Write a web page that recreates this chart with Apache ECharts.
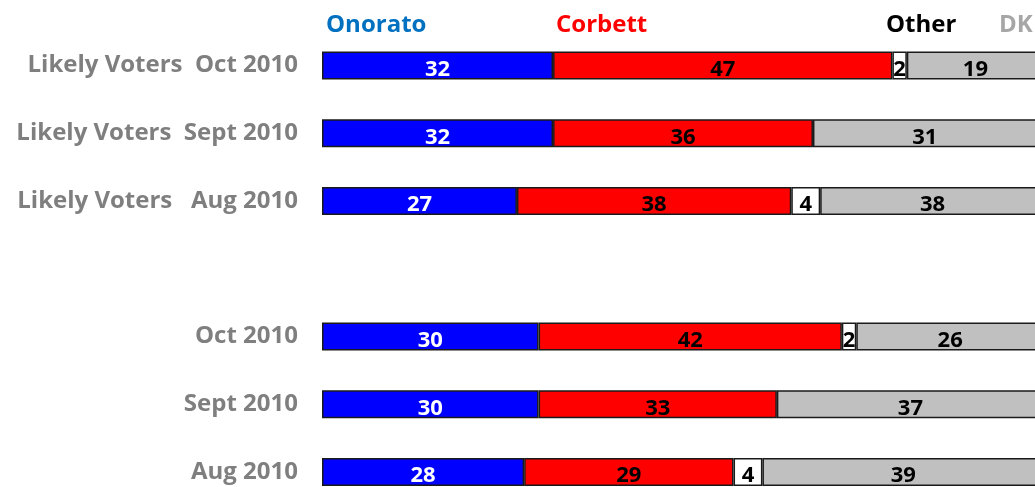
<!DOCTYPE html>
<html>
<head>
<meta charset="utf-8">
<script src="https://cdn.jsdelivr.net/npm/echarts@6/dist/echarts.min.js"></script>
<style>html,body{margin:0;padding:0;background:#fff;}#c{width:1035px;height:487px;}</style>
</head>
<body>
<div id="c"></div>
<script>
var categories = ['Likely Voters  Oct 2010', 'Likely Voters  Sept 2010', 'Likely Voters   Aug 2010', '', 'Oct 2010', 'Sept 2010', 'Aug 2010'];
var onorato = [32, 32, 27, null, 30, 30, 28];
var corbett = [47, 36, 38, null, 42, 33, 29];
var other   = [2, null, 4, null, 2, null, 4];
var dk      = [19, 31, 38, null, 26, 37, 39];
var seriesNames = ['Onorato', 'Corbett', 'Other', 'DK'];

var FONT = '"Open Sans", "Liberation Sans", sans-serif';
var chart = echarts.init(document.getElementById('c'), null, {renderer: 'canvas'});

function mkSeries(name, data, color, labelColor) {
  return {
    name: name,
    type: 'bar',
    stack: 'total',
    data: data,
    barWidth: 28,
    clip: true,
    itemStyle: {color: color, borderColor: '#1a1a1a', borderWidth: 1.5},
    label: {
      show: true,
      position: 'inside',
      color: labelColor,
      fontFamily: FONT,
      fontWeight: 'bold',
      fontSize: 22,
      offset: [0, 4]
    },
    emphasis: {disabled: true},
    animation: false
  };
}

function mkLegend(name, color, left) {
  return {
    data: [{name: name, icon: 'none'}],
    left: left,
    top: 8,
    itemWidth: 0,
    itemHeight: 0,
    selectedMode: false,
    textStyle: {color: color, fontFamily: FONT, fontWeight: 'bold', fontSize: 24}
  };
}

chart.setOption({
  animation: false,
  legend: [
    mkLegend(seriesNames[0], '#0070C0', 316),
    mkLegend(seriesNames[1], '#FF0000', 546),
    mkLegend(seriesNames[2], '#000000', 876),
    mkLegend(seriesNames[3], '#A6A6A6', 989)
  ],
  grid: {left: 322, width: 722, top: 31.6, bottom: -18.9, containLabel: false, outerBoundsMode: 'none'},
  xAxis: {
    type: 'value', min: 0, max: 100,
    show: false
  },
  yAxis: {
    type: 'category',
    data: categories,
    inverse: true,
    axisLine: {show: false},
    axisTick: {show: false},
    splitLine: {show: false},
    axisLabel: {
      color: '#7F7F7F',
      fontFamily: FONT,
      fontWeight: 'bold',
      fontSize: 24,
      margin: 24
    }
  },
  series: [
    mkSeries(seriesNames[0], onorato, '#0000FF', '#FFFFFF'),
    mkSeries(seriesNames[1], corbett, '#FF0000', '#000000'),
    mkSeries(seriesNames[2], other, '#FFFFFF', '#000000'),
    mkSeries(seriesNames[3], dk, '#C0C0C0', '#000000')
  ]
});
</script>
</body>
</html>
